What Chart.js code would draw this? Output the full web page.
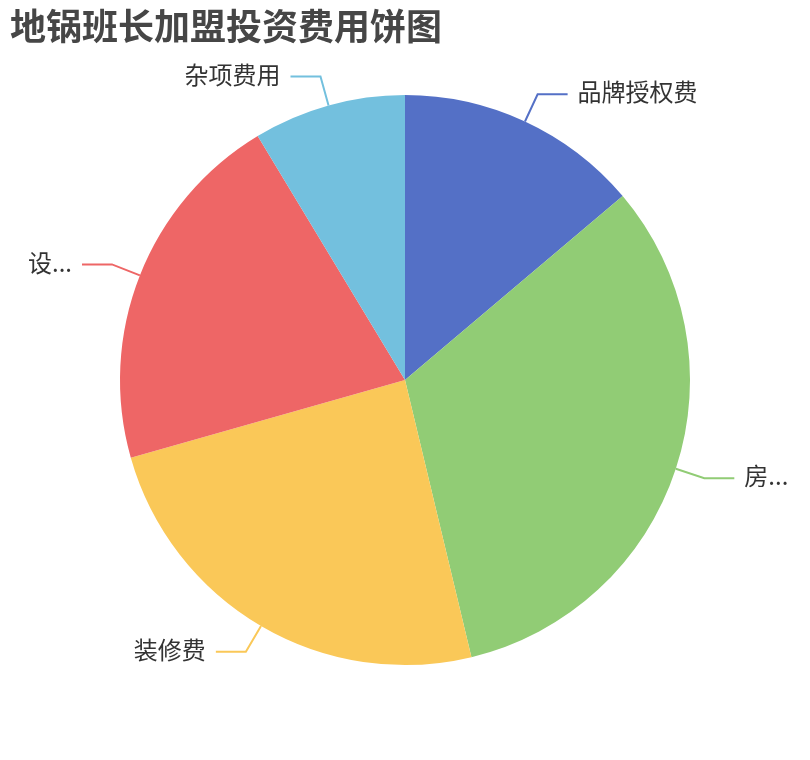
<!DOCTYPE html>
<html>
<head>
<meta charset="utf-8">
<script src="https://cdn.jsdelivr.net/npm/chart.js@4/dist/chart.umd.min.js"></script>
<style>
    html, body { margin: 0; padding: 0; background: #fff; }
    #pie { display: block; }
</style>
</head>
<body>
<canvas id="pie" width="810" height="760"></canvas>
<script>
const chartTitle = "地锅班长加盟投资费用饼图";
const categories = ["品牌授权费", "房租费用", "装修费", "设备购置费", "杂项费用"];
const costs = [4.8, 11.25, 8.45, 7.2, 3.0];
const sliceColors = ["#5470c6", "#91cc75", "#fac858", "#ee6666", "#73c0de"];

const FONT = '"Noto Sans CJK SC", "Noto Sans", sans-serif';

// title drawn at top left
const titlePlugin = {
    id: "titleText",
    afterDraw(chart) {
        const ctx = chart.ctx;
        ctx.save();
        ctx.font = "bold 36px " + FONT;
        ctx.fillStyle = "#464646";
        ctx.textAlign = "left";
        ctx.textBaseline = "middle";
        ctx.fillText(chartTitle, 10, 26);
        ctx.restore();
    }
};

// outside labels with leader lines, truncated at canvas edges
function fitText(ctx, text, maxWidth) {
    if (ctx.measureText(text).width <= maxWidth) return text;
    let s = text;
    while (s.length > 1 && ctx.measureText(s + "...").width > maxWidth) {
        s = s.slice(0, -1);
    }
    return s + "...";
}

const outsideLabels = {
    id: "outsideLabels",
    afterDatasetsDraw(chart) {
        const ctx = chart.ctx;
        const meta = chart.getDatasetMeta(0);
        const W = chart.width;
        ctx.save();
        ctx.font = "24px " + FONT;
        ctx.lineWidth = 2;
        ctx.textBaseline = "middle";
        meta.data.forEach((arc, i) => {
            const p = arc.getProps(["x", "y", "startAngle", "endAngle", "outerRadius"], true);
            const a = (p.startAngle + p.endAngle) / 2;
            const cos = Math.cos(a), sin = Math.sin(a);
            const x0 = p.x + cos * p.outerRadius, y0 = p.y + sin * p.outerRadius;
            const x1 = p.x + cos * (p.outerRadius + 30), y1 = p.y + sin * (p.outerRadius + 30);
            const right = cos >= 0;
            const x2 = x1 + (right ? 30 : -30);

            ctx.strokeStyle = sliceColors[i];
            ctx.beginPath();
            ctx.moveTo(x0, y0);
            ctx.lineTo(x1, y1);
            ctx.lineTo(x2, y1);
            ctx.stroke();

            const tx = x2 + (right ? 10 : -10);
            const room = right ? W - tx - 20 : tx - 20;
            ctx.fillStyle = "#333";
            ctx.textAlign = right ? "left" : "right";
            ctx.fillText(fitText(ctx, chart.data.labels[i], room), tx, y1 - 2);
        });
        ctx.restore();
    }
};

new Chart(document.getElementById("pie"), {
    type: "pie",
    data: {
        labels: categories,
        datasets: [{
            data: costs,
            backgroundColor: sliceColors,
            borderWidth: 0
        }]
    },
    options: {
        responsive: false,
        animation: false,
        layout: { padding: { left: 120, right: 120, top: 95, bottom: 95 } },
        plugins: {
            legend: { display: false },
            tooltip: { enabled: false },
            title: { display: false }
        }
    },
    plugins: [titlePlugin, outsideLabels]
});
</script>
</body>
</html>
